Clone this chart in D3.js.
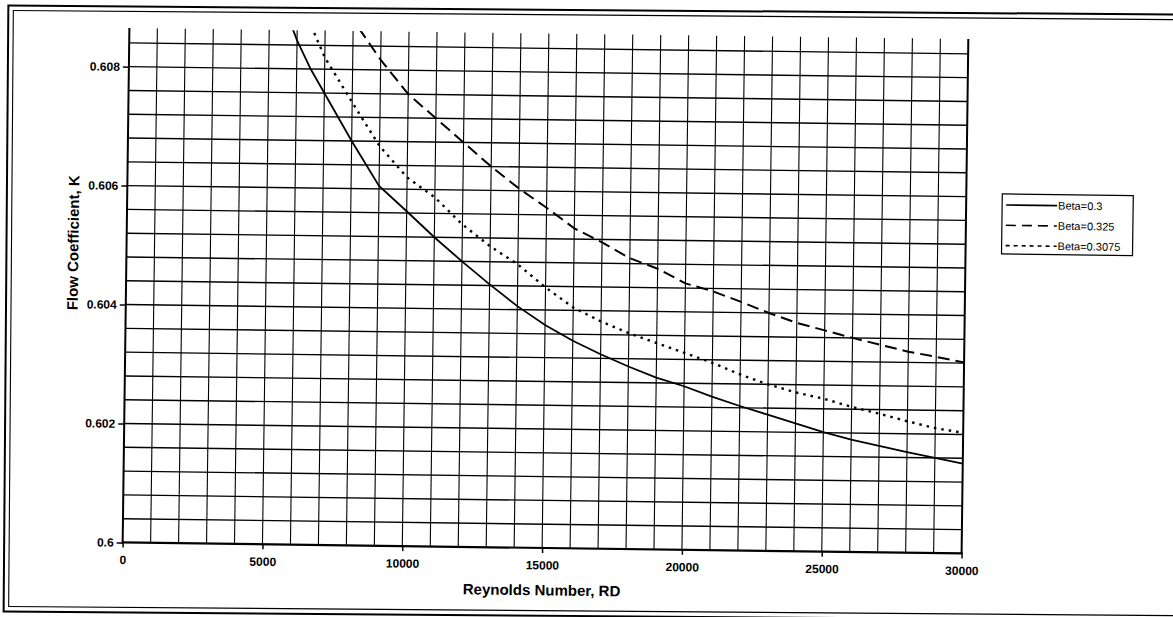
<!DOCTYPE html>
<html><head><meta charset="utf-8">
<script src="https://cdn.jsdelivr.net/npm/d3@7"></script>
<style>body{margin:0;background:#fff;} svg{display:block;}</style>
</head><body>
<svg id="c" width="1173" height="617"></svg>
<script>
// ---- data ----
const xTickValues = [0, 5000, 10000, 15000, 20000, 25000, 30000];
const yTickValues = [0.6, 0.602, 0.604, 0.606, 0.608];
const xTickLabels = ["0", "5000", "10000", "15000", "20000", "25000", "30000"];
const yTickLabels = ["0.6", "0.602", "0.604", "0.606", "0.608"];
const seriesNames = ["Beta=0.3", "Beta=0.325", "Beta=0.3075"];

const reBeta0300 = [5800, 6000, 6500, 7000, 8000, 9000, 10000, 11000, 12000, 13000, 14000, 15000, 16000, 17000, 18000, 19000, 20000, 21000, 22000, 23000, 24000, 25000, 26000, 27000, 28000, 29000, 30000];
const kBeta0300  = [0.60872, 0.60848, 0.6080, 0.6076, 0.6068, 0.60605, 0.60563, 0.6052, 0.6048, 0.60442, 0.60406, 0.60375, 0.60349, 0.60327, 0.60307, 0.60289, 0.60275, 0.60258, 0.60243, 0.60229, 0.60215, 0.60201, 0.60189, 0.60179, 0.60169, 0.6016, 0.60151];

const reBeta0325 = [8200, 9000, 10000, 11000, 12000, 13000, 14000, 15000, 16000, 17000, 18000, 19000, 20000, 21000, 22000, 23000, 24000, 25000, 26000, 27000, 28000, 29000, 30000];
const kBeta0325  = [0.6087, 0.60817, 0.6076, 0.6072, 0.6068, 0.6064, 0.60604, 0.60572, 0.60538, 0.60515, 0.60489, 0.60472, 0.60448, 0.60435, 0.60418, 0.604, 0.60384, 0.60372, 0.6036, 0.60349, 0.60338, 0.6033, 0.60321];

const reBeta03075 = [6500, 7000, 8000, 9000, 10000, 11000, 12000, 13000, 14000, 15000, 16000, 17000, 18000, 19000, 20000, 21000, 22000, 23000, 24000, 25000, 26000, 27000, 28000, 29000, 30000];
const kBeta03075  = [0.60872, 0.6082, 0.60745, 0.60672, 0.6062, 0.60587, 0.60542, 0.60506, 0.60476, 0.60438, 0.60405, 0.60382, 0.60363, 0.60347, 0.60331, 0.60315, 0.60296, 0.6028, 0.60267, 0.60257, 0.60244, 0.60233, 0.60221, 0.6021, 0.60203];

const xDomain = [0, 30000];
const yDomain = [0.6, 0.60865];
const xMinorStep = 1000;
const yMinorStep = 0.0004;

// ---- layout ----
const svg = d3.select("#c");
const FONT = "'Liberation Sans', Arial, Helvetica, sans-serif";

// outer double frame
const frame = svg.append("g").attr("transform", "rotate(0.45,586,310)");
frame.append("rect").attr("x", 6).attr("y", 10).attr("width", 1200).attr("height", 606)
  .attr("fill", "none").attr("stroke", "#000").attr("stroke-width", 2);
frame.append("rect").attr("x", 11).attr("y", 15).attr("width", 1200).attr("height", 596)
  .attr("fill", "none").attr("stroke", "#000").attr("stroke-width", 1.1);

const root = svg.append("g").attr("transform", "rotate(0.75,547,290)");

const L = 126, R = 965, T = 33.5, B = 548;
const x = d3.scaleLinear().domain(xDomain).range([L, R]);
const y = d3.scaleLinear().domain(yDomain).range([B, T]);

// grid
const vGrid = d3.range(xMinorStep, xDomain[1] + 1, xMinorStep);
const nH = Math.floor((yDomain[1] - yDomain[0]) / yMinorStep + 1e-9);
const hGrid = d3.range(1, nH + 1).map(i => yDomain[0] + i * yMinorStep);

root.append("g").selectAll("line").data(vGrid).join("line")
  .attr("x1", d => x(d)).attr("x2", d => x(d)).attr("y1", T).attr("y2", B)
  .attr("stroke", "#000").attr("stroke-width", d => d === xDomain[1] ? 2 : 1.1);
root.append("g").selectAll("line").data(hGrid).join("line")
  .attr("x1", L).attr("x2", R).attr("y1", d => y(d)).attr("y2", d => y(d))
  .attr("stroke", "#000").attr("stroke-width", 1.4);

// axes
const yAxis = d3.axisLeft(y).tickValues(yTickValues).tickSize(6).tickPadding(3)
  .tickFormat((d, i) => yTickLabels[i]);
const gy = root.append("g").attr("transform", `translate(${L},0)`).call(yAxis);
const xAxis = d3.axisBottom(x).tickValues(xTickValues).tickSize(5).tickPadding(8)
  .tickFormat((d, i) => xTickLabels[i]);
const gx = root.append("g").attr("transform", `translate(0,${B})`).call(xAxis);
[gx, gy].forEach(g => {
  g.select(".domain").remove();
  g.selectAll(".tick line").attr("stroke", "#000").attr("stroke-width", 1.5);
  g.selectAll(".tick text").attr("fill", "#000").attr("font-family", FONT)
    .attr("font-size", 12).attr("font-weight", "bold");
});
root.append("line").attr("x1", L).attr("x2", L).attr("y1", T).attr("y2", B + 1)
  .attr("stroke", "#000").attr("stroke-width", 2);
root.append("line").attr("x1", L - 1).attr("x2", R + 1).attr("y1", B).attr("y2", B)
  .attr("stroke", "#000").attr("stroke-width", 2.2);

// clip
root.append("clipPath").attr("id", "plotclip").append("rect")
  .attr("x", L).attr("y", T).attr("width", R - L).attr("height", B - T);

const series = [
  { name: seriesNames[0], re: reBeta0300, k: kBeta0300, dash: null, w: 1.8 },
  { name: seriesNames[1], re: reBeta0325, k: kBeta0325, dash: "12,6", w: 2 },
  { name: seriesNames[2], re: reBeta03075, k: kBeta03075, dash: "2.5,5", w: 2.4 }
];
const line = d3.line().x(d => x(d[0])).y(d => y(d[1]));
const gLines = root.append("g").attr("clip-path", "url(#plotclip)");
series.forEach(s => {
  gLines.append("path").datum(s.re.map((r, i) => [r, s.k[i]]))
    .attr("d", line).attr("fill", "none").attr("stroke", "#000")
    .attr("stroke-width", s.w).attr("stroke-dasharray", s.dash);
});

// axis titles
root.append("text").attr("x", (L + R) / 2).attr("y", 590).attr("dy", "0.36em")
  .attr("text-anchor", "middle").attr("font-family", FONT).attr("font-size", 15)
  .attr("font-weight", "bold").text("Reynolds Number, RD");
root.append("text").attr("transform", "translate(72.5,249) rotate(-90)").attr("dy", "0.36em")
  .attr("text-anchor", "middle").attr("font-family", FONT).attr("font-size", 15)
  .attr("font-weight", "bold").text("Flow Coefficient, K");

// legend
const lg = root.append("g");
lg.append("rect").attr("x", 1001).attr("y", 188).attr("width", 131).attr("height", 60)
  .attr("fill", "#fff").attr("stroke", "#000").attr("stroke-width", 1.2);
const legendDash = [null, "10,6", "4,4"];
series.forEach((s, i) => {
  const ly = 199 + i * 20.3;
  lg.append("line").attr("x1", 1005).attr("x2", 1056).attr("y1", ly).attr("y2", ly)
    .attr("stroke", "#000").attr("stroke-width", 1.6).attr("stroke-dasharray", legendDash[i]);
  lg.append("text").attr("x", 1057).attr("y", ly).attr("dy", "0.35em")
    .attr("font-family", FONT).attr("font-size", 11).attr("fill", "#000").text(s.name);
});
</script>
</body></html>
